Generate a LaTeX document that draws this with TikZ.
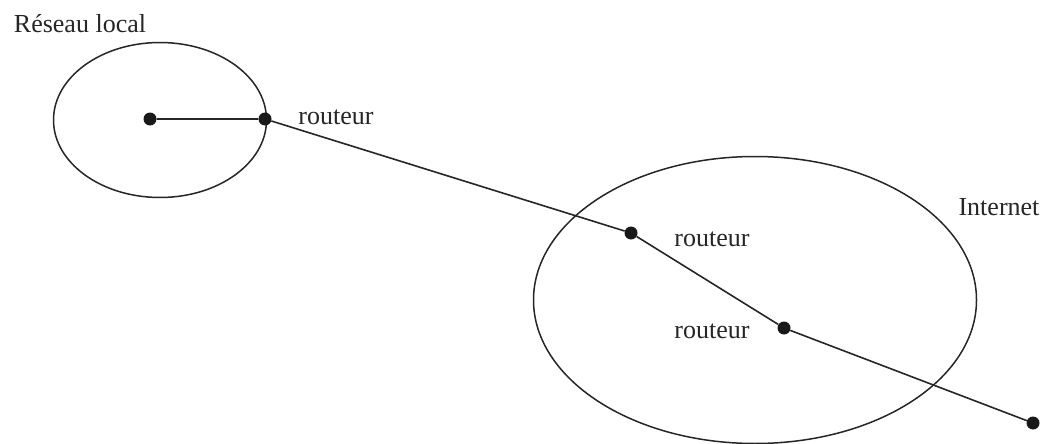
\documentclass[tikz,border=0pt]{standalone}
\usepackage{fontspec}
\setmainfont{Liberation Serif}
\usetikzlibrary{shapes.geometric}
\begin{document}
\begin{tikzpicture}[x=1pt,y=-1pt,
  dot/.style={circle,fill=black!90,inner sep=0pt,minimum size=13pt},
  lbl/.style={font=\fontsize{26}{29}\selectfont,text=black!85,inner sep=0pt},
  conn/.style={line width=1.6pt,black!85},
  zone/.style={ellipse,draw=black!85,line width=1.5pt,inner sep=0pt}]
\useasboundingbox (0,0) rectangle (1041,444);
\node[zone,minimum width=213pt,minimum height=155pt] (lan) at (160,120) {};
\node[zone,minimum width=443pt,minimum height=287pt] (net) at (755,300) {};
\node[dot] (h) at (150,119) {};
\node[dot] (r1) at (265,119) {};
\node[dot] (r2) at (631,233) {};
\node[dot] (r3) at (784,328) {};
\node[dot] (e) at (1033,423) {};
\draw[conn] (h) -- (r1) -- (r2) -- (r3) -- (e);
\node[lbl] (t0) at (80,24) {Réseau local};
\node[lbl] (t1) at (336,117) {routeur};
\node[lbl] (t2) at (712,239) {routeur};
\node[lbl] (t3) at (712,331) {routeur};
\node[lbl] (t4) at (999,207) {Internet};
\end{tikzpicture}
\end{document}
